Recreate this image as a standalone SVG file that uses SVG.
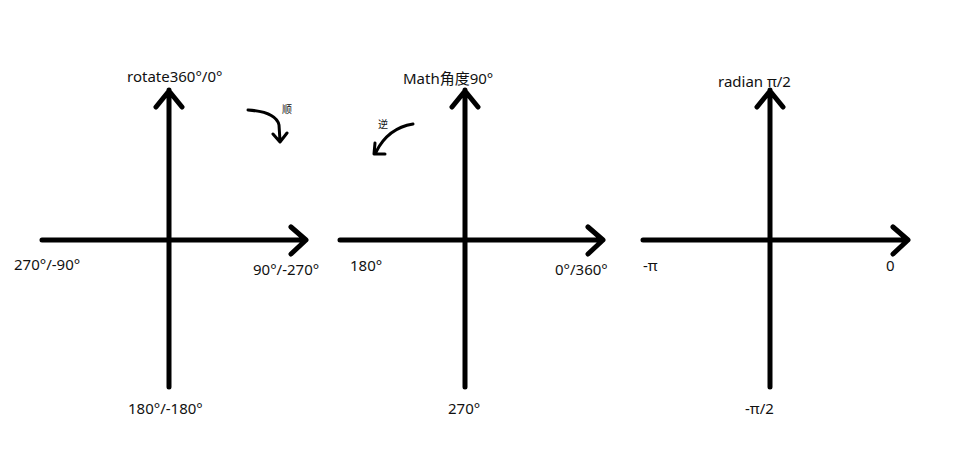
<svg xmlns="http://www.w3.org/2000/svg" width="972" height="473" viewBox="0 0 972 473">
<style>
.ax{stroke:#000;stroke-width:5;fill:none;stroke-linecap:round;stroke-linejoin:round}
.cv{stroke:#000;stroke-width:3;fill:none;stroke-linecap:round;stroke-linejoin:round}
text{font-family:"Noto Sans","Noto Sans CJK SC",sans-serif;font-size:15px;fill:#111}
.sm{font-size:10px}
</style>
<rect width="972" height="473" fill="#fff"/>
<g id="connectors">
<g id="axes-rotate">
<path class="ax" d="M169 387 V90 M156 107 L169 91 L182 107"/>
<path class="ax" d="M42 240 H305 M291 227 L306 240 L291 254"/>
</g>
<g id="axes-math">
<path class="ax" d="M465 387 V90 M452 107 L465 91 L478 107"/>
<path class="ax" d="M340 240 H602 M588 227 L603 240 L588 254"/>
</g>
<g id="axes-radian">
<path class="ax" d="M770 387 V90 M757 107 L770 91 L783 107"/>
<path class="ax" d="M643 240 H907 M893 227 L908 240 L893 254"/>
</g>
<path id="cw" class="cv" d="M248 110 Q276 112 279 125 L280 141 M273 134 L280 142 L287 133"/>
<path id="ccw" class="cv" d="M413 124 Q388 128 376 152 M375 143 L374 154 L385 154"/>
</g>
<g id="rotate-labels">
<text x="127" y="82">rotate360°/0°</text>
<text x="14" y="270">270°/-90°</text>
<text x="253" y="275">90°/-270°</text>
<text x="128" y="414">180°/-180°</text>
<text x="282" y="113" class="sm">顺</text>
</g>
<g id="math-labels">
<text x="403" y="84">Math角度90°</text>
<text x="350" y="271">180°</text>
<text x="555" y="275">0°/360°</text>
<text x="448" y="414">270°</text>
<text x="378" y="128" class="sm">逆</text>
</g>
<g id="radian-labels">
<text x="718" y="87">radian π/2</text>
<text x="643" y="271">-π</text>
<text x="886" y="271">0</text>
<text x="745" y="414">-π/2</text>
</g>
</svg>
